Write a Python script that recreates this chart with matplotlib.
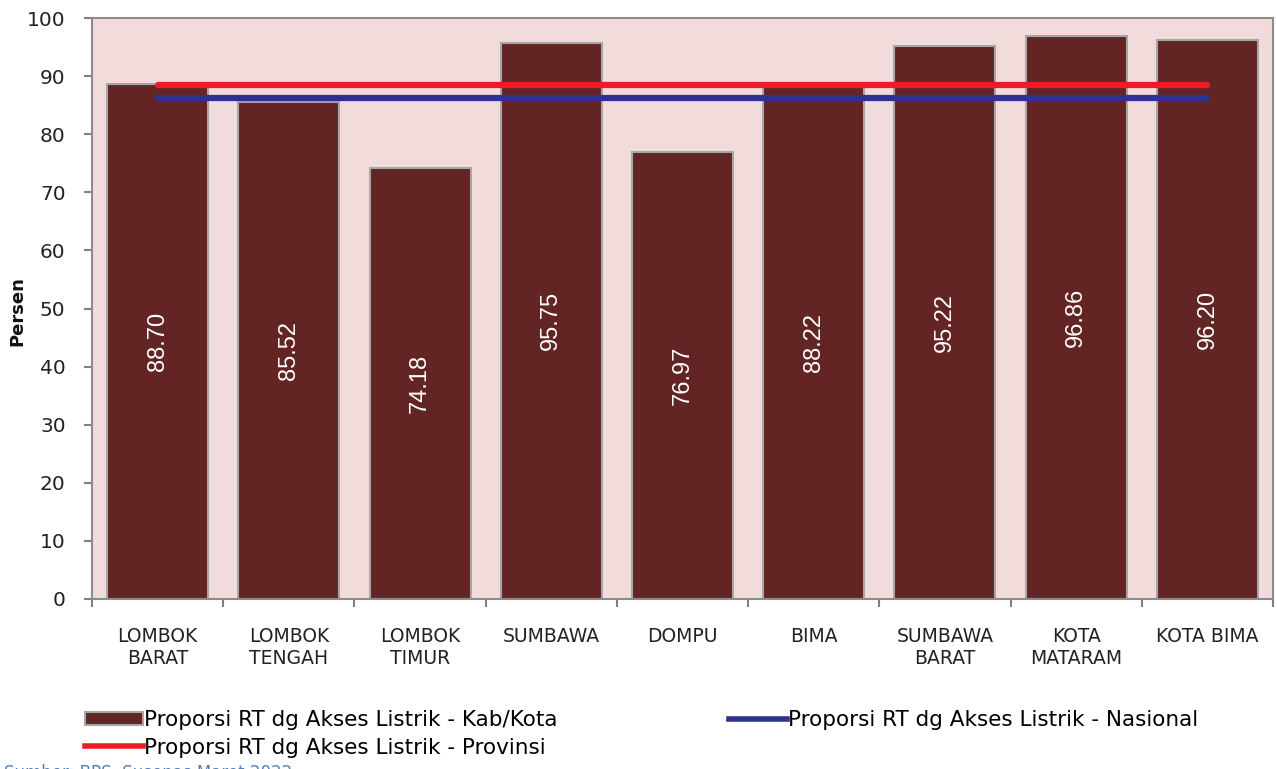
import matplotlib
matplotlib.use("Agg")
import matplotlib.pyplot as plt
from matplotlib.patches import Patch
from matplotlib.lines import Line2D

categories = ["LOMBOK\nBARAT", "LOMBOK\nTENGAH", "LOMBOK\nTIMUR", "SUMBAWA", "DOMPU",
              "BIMA", "SUMBAWA\nBARAT", "KOTA\nMATARAM", "KOTA BIMA"]
kab_kota = [88.70, 85.52, 74.18, 95.75, 76.97, 88.22, 95.22, 96.86, 96.20]
provinsi = 88.5
nasional = 86.2
yticks = [0, 10, 20, 30, 40, 50, 60, 70, 80, 90, 100]

plt.rcParams['font.family'] = ['DejaVu Sans']

fig = plt.figure(figsize=(12.77, 7.69), dpi=100)
ax = fig.add_axes([92/1277, 1 - 599/769, (1273-92)/1277, (599-18)/769])
ax.set_facecolor('#F2DCDB')

x = list(range(len(categories)))
bars = ax.bar(x, kab_kota, width=0.77, color='#632523', edgecolor='#A6A6A6', linewidth=1.5, zorder=2)
for xi, v in zip(x, kab_kota):
    ax.text(xi, v / 2, f"{v:.2f}", rotation=90, ha='center', va='center', color='white',
            fontsize=17, family='Liberation Sans', zorder=4)

ax.plot([x[0], x[-1]], [provinsi, provinsi], color='#ED1C24', lw=4.5, solid_capstyle='round', zorder=3)
ax.plot([x[0], x[-1]], [nasional, nasional], color='#2E3192', lw=4.5, solid_capstyle='round', zorder=3)

ax.set_xlim(-0.5, len(categories) - 0.5)
ax.set_ylim(0, 100)
ax.set_yticks(yticks)
ax.set_yticklabels([str(t) for t in yticks], fontsize=14.5, color='#222222')
ax.set_xticks(x)
ax.set_xticklabels(categories, fontsize=13.5, color='#222222', linespacing=1.2)
ax.set_xticks([i - 0.5 for i in range(len(categories) + 1)], minor=True)
ax.tick_params(axis='x', which='major', length=0, pad=20)
ax.tick_params(axis='x', which='minor', length=6, width=1.5, color='#808080', direction='out')
ax.tick_params(axis='y', length=6, width=1.5, color='#808080', direction='out', pad=13)
for s in ax.spines.values():
    s.set_color('#8C8C8C')
    s.set_linewidth(1.5)

fig.text(17/1277, 1 - 311/769, 'Persen', rotation=90, fontsize=13, fontweight='bold',
         ha='center', va='center', color='#111111')

handles = [Patch(facecolor='#632523', edgecolor='#A6A6A6', linewidth=1.5),
           Line2D([0], [0], color='#ED1C24', lw=4),
           Line2D([0], [0], color='#2E3192', lw=4)]
labels = ['Proporsi RT dg Akses Listrik - Kab/Kota',
          'Proporsi RT dg Akses Listrik - Provinsi',
          'Proporsi RT dg Akses Listrik - Nasional']
fig.legend(handles, labels, ncol=2, loc='upper left', bbox_to_anchor=(85/1277, 1 - 710/769),
           frameon=False, fontsize=15.5, handlelength=2.7, handleheight=0.6, handletextpad=0.05,
           columnspacing=7.95, labelspacing=0.35, borderaxespad=0, borderpad=0)

fig.text(0.003, 5/769, 'Sumber: BPS, Susenas Maret 2022', color='#4F81BD', fontsize=12, va='top')

fig.savefig('out.png', dpi=100)
